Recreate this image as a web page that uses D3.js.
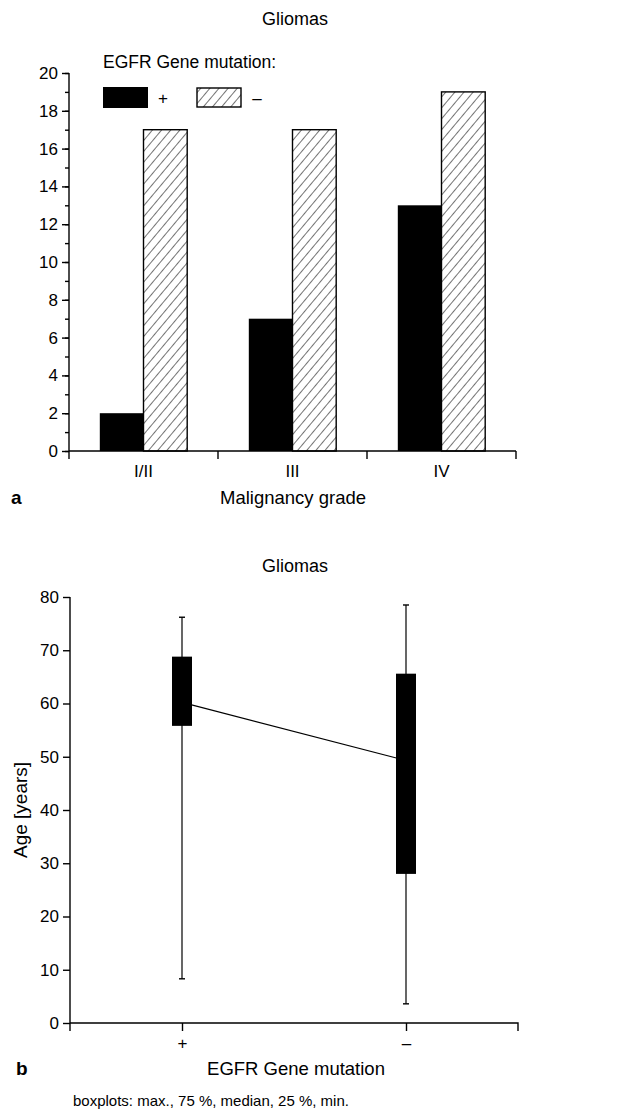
<!DOCTYPE html>
<html lang="en">
  <head>
    <meta charset="UTF-8">
    <script src="https://d3js.org/d3.v7.min.js"></script>
    <style>
      html, body { margin: 0; padding: 0; background: #fff; }
      svg { display: block; font-family: "Liberation Sans", Arial, sans-serif; }
      .axis path, .axis line { stroke: #000; stroke-width: 1.4; }
      .axis text { font-size: 17px; fill: #000; }
    </style>
  </head>
  <body>
    <svg id="fig" width="639" height="1113"></svg>
    <script>
      // panel a: gliomas by malignancy grade
      let grades = ['I/II', 'III', 'IV'];
      let mutPos = [2, 7, 13];
      let mutNeg = [17, 17, 19];
      let countTicks = [0, 2, 4, 6, 8, 10, 12, 14, 16, 18, 20];

      // panel b: age boxplots
      let groups = ['+', '\u2013'];
      let ageMax = [76.2, 78.5];
      let ageQ3 = [68.8, 65.6];
      let ageMedian = [60.2, 49.3];
      let ageQ1 = [55.8, 28.0];
      let ageMin = [8.3, 3.6];
      let ageTicks = [0, 10, 20, 30, 40, 50, 60, 70, 80];

      let svg = d3.select('#fig');

      // hatch pattern
      let defs = svg.append('defs');
      let pat = defs.append('pattern')
        .attr('id', 'hatch')
        .attr('patternUnits', 'userSpaceOnUse')
        .attr('width', 7)
        .attr('height', 7)
        .attr('patternTransform', 'rotate(40)');
      pat.append('rect').attr('width', 7).attr('height', 7).attr('fill', '#fff');
      pat.append('line')
        .attr('x1', 0).attr('y1', 0).attr('x2', 0).attr('y2', 7)
        .attr('stroke', '#000').attr('stroke-width', 1.1);

      //
      // Panel a
      //
      let ax = { left: 69, right: 516, top: 73, bottom: 451 };

      let xa = d3.scaleBand()
        .domain(grades)
        .range([ax.left, ax.right])
        .paddingInner(0)
        .paddingOuter(0);

      let xInner = d3.scaleBand()
        .domain(['pos', 'neg'])
        .range([0, xa.bandwidth()])
        .paddingOuter(0.705)
        .paddingInner(0);

      let ya = d3.scaleLinear().domain([0, 20]).range([ax.bottom, ax.top]);

      let ga = svg.append('g');

      ga.append('g')
        .attr('class', 'axis')
        .attr('transform', `translate(${ax.left},0)`)
        .call(d3.axisLeft(ya).tickValues(d3.range(0, 21, 1)).tickSize(4).tickFormat(''))
        .call(g => g.select('.domain').remove());

      ga.append('g')
        .attr('class', 'axis')
        .attr('transform', `translate(${ax.left},0)`)
        .call(d3.axisLeft(ya).tickValues(countTicks).tickSize(7).tickPadding(4))
        .call(g => g.select('.domain').attr('d', `M0,${ax.top}V${ax.bottom + 8}`));

      let groupsA = ga.selectAll('.grp')
        .data(grades)
        .enter()
        .append('g')
        .attr('transform', d => `translate(${xa(d)},0)`);

      groupsA.append('rect')
        .attr('x', xInner('pos'))
        .attr('width', xInner.bandwidth())
        .attr('y', (d, i) => ya(mutPos[i]))
        .attr('height', (d, i) => ya(0) - ya(mutPos[i]))
        .attr('fill', '#000');

      groupsA.append('rect')
        .attr('x', xInner('neg'))
        .attr('width', xInner.bandwidth())
        .attr('y', (d, i) => ya(mutNeg[i]))
        .attr('height', (d, i) => ya(0) - ya(mutNeg[i]))
        .attr('fill', 'url(#hatch)')
        .attr('stroke', '#000')
        .attr('stroke-width', 1.4);

      // x axis a: ticks at band boundaries
      ga.append('g')
        .attr('class', 'axis')
        .attr('transform', `translate(0,${ax.bottom})`)
        .call(d3.axisBottom(xa).tickSize(0).tickPadding(14))
        .call(g => g.select('.domain').attr('d', `M${ax.left},0H${ax.right}`));

      ga.selectAll('.xbound')
        .data(grades)
        .enter()
        .append('line')
        .attr('x1', d => xa(d) + xa.bandwidth())
        .attr('x2', d => xa(d) + xa.bandwidth())
        .attr('y1', ax.bottom)
        .attr('y2', ax.bottom + 8)
        .attr('stroke', '#000')
        .attr('stroke-width', 1.4);

      ga.append('text')
        .attr('x', 295).attr('y', 25)
        .attr('text-anchor', 'middle')
        .attr('font-size', 18)
        .text('Gliomas');

      ga.append('text')
        .attr('x', 103).attr('y', 68)
        .attr('font-size', 17.5)
        .text('EGFR Gene mutation:');

      ga.append('rect')
        .attr('x', 103).attr('y', 87).attr('width', 45).attr('height', 21)
        .attr('fill', '#000');
      ga.append('text')
        .attr('x', 163).attr('y', 104)
        .attr('text-anchor', 'middle').attr('font-size', 17)
        .text('+');
      ga.append('rect')
        .attr('x', 197).attr('y', 88).attr('width', 44).attr('height', 19)
        .attr('fill', 'url(#hatch)')
        .attr('stroke', '#000').attr('stroke-width', 1.4);
      ga.append('text')
        .attr('x', 257).attr('y', 104)
        .attr('text-anchor', 'middle').attr('font-size', 17)
        .text('\u2013');

      ga.append('text')
        .attr('x', 293).attr('y', 504)
        .attr('text-anchor', 'middle').attr('font-size', 18.5)
        .text('Malignancy grade');

      ga.append('text')
        .attr('x', 11).attr('y', 504)
        .attr('font-size', 19).attr('font-weight', 'bold')
        .text('a');

      //
      // Panel b
      //
      let bx = { left: 70, right: 518, top: 597, bottom: 1023 };

      let xb = d3.scalePoint()
        .domain(groups)
        .range([bx.left, bx.right])
        .padding(0.5);

      let yb = d3.scaleLinear().domain([0, 80]).range([bx.bottom, bx.top]);

      let gb = svg.append('g');

      gb.append('g')
        .attr('class', 'axis')
        .attr('transform', `translate(${bx.left},0)`)
        .call(d3.axisLeft(yb).tickValues(ageTicks).tickSize(7).tickPadding(4))
        .call(g => g.select('.domain').attr('d', `M0,${bx.top}V${bx.bottom + 8}`));

      gb.append('g')
        .attr('class', 'axis')
        .attr('transform', `translate(0,${bx.bottom})`)
        .call(d3.axisBottom(xb).tickSize(8).tickPadding(6))
        .call(g => g.select('.domain').attr('d', `M${bx.left},0H${bx.right}V8`));

      // median connecting line
      gb.append('path')
        .datum(groups)
        .attr('d', d3.line().x(d => xb(d)).y((d, i) => yb(ageMedian[i])))
        .attr('fill', 'none')
        .attr('stroke', '#000')
        .attr('stroke-width', 1.2);

      let boxes = gb.selectAll('.box')
        .data(groups)
        .enter()
        .append('g')
        .attr('transform', d => `translate(${xb(d)},0)`);

      boxes.append('line')
        .attr('y1', (d, i) => yb(ageMax[i]))
        .attr('y2', (d, i) => yb(ageMin[i]))
        .attr('stroke', '#000').attr('stroke-width', 1.2);

      boxes.append('line')
        .attr('x1', -3).attr('x2', 3)
        .attr('y1', (d, i) => yb(ageMax[i]))
        .attr('y2', (d, i) => yb(ageMax[i]))
        .attr('stroke', '#000').attr('stroke-width', 1.4);

      boxes.append('line')
        .attr('x1', -3).attr('x2', 3)
        .attr('y1', (d, i) => yb(ageMin[i]))
        .attr('y2', (d, i) => yb(ageMin[i]))
        .attr('stroke', '#000').attr('stroke-width', 1.4);

      boxes.append('rect')
        .attr('x', -10).attr('width', 20)
        .attr('y', (d, i) => yb(ageQ3[i]))
        .attr('height', (d, i) => yb(ageQ1[i]) - yb(ageQ3[i]))
        .attr('fill', '#000');

      gb.append('text')
        .attr('x', 295).attr('y', 572)
        .attr('text-anchor', 'middle').attr('font-size', 18)
        .text('Gliomas');

      gb.append('text')
        .attr('transform', `translate(27,${(bx.top + bx.bottom) / 2}) rotate(-90)`)
        .attr('text-anchor', 'middle').attr('font-size', 19)
        .text('Age [years]');

      gb.append('text')
        .attr('x', 296).attr('y', 1075)
        .attr('text-anchor', 'middle').attr('font-size', 18.5)
        .text('EGFR Gene mutation');

      gb.append('text')
        .attr('x', 16).attr('y', 1075)
        .attr('font-size', 19).attr('font-weight', 'bold')
        .text('b');

      gb.append('text')
        .attr('x', 73).attr('y', 1106)
        .attr('font-size', 15)
        .text('boxplots: max., 75 %, median, 25 %, min.');
    </script>
  </body>
</html>
